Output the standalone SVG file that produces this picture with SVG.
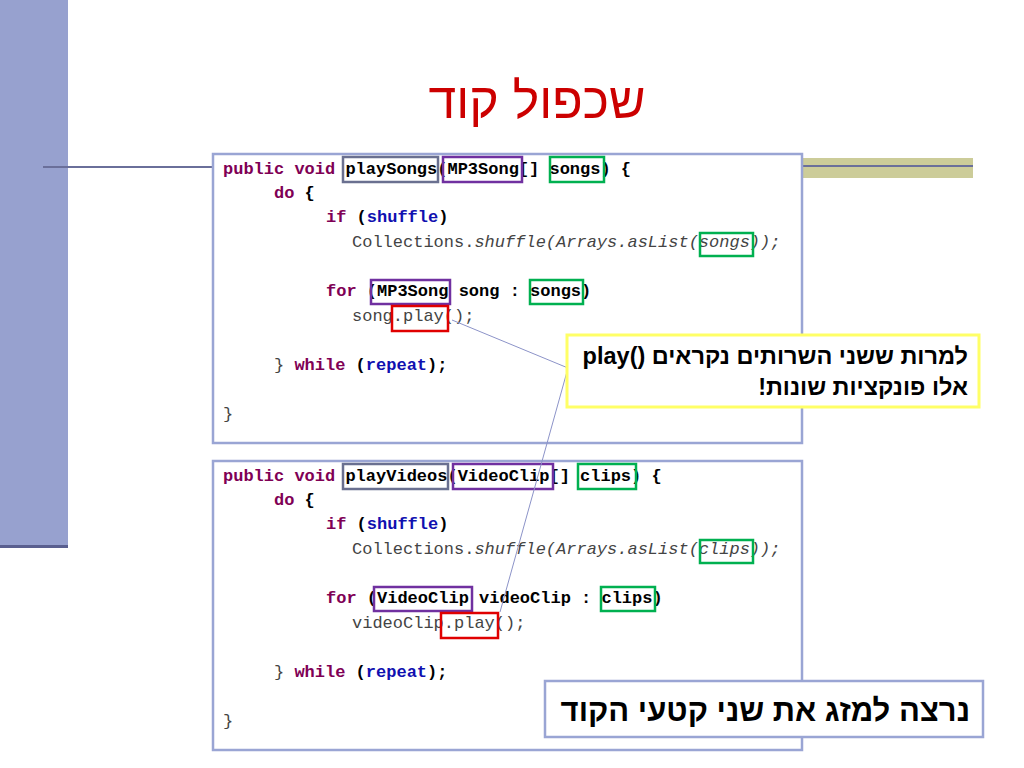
<svg xmlns="http://www.w3.org/2000/svg" width="1024" height="768" viewBox="0 0 1024 768">
<style>
.c{font-family:"Liberation Mono","Courier New",monospace;font-size:17px;white-space:pre}
.k{fill:#7F0055;font-weight:bold}
.b{fill:#1010B0;font-weight:bold}
.n{fill:#000;font-weight:bold}
.g{fill:#444}
.i{font-style:italic}
.panel{fill:#fff;stroke:#9AA5D4;stroke-width:2.5}
.bx{fill:none;stroke-width:2.5}
.gr{stroke:#00B050}.pu{stroke:#7030A0}.sl{stroke:#6A7090}.rd{stroke:#E00000}
.h{font-family:"Liberation Sans","Noto Sans",sans-serif;font-weight:bold;direction:rtl}
</style>
<rect x="0" y="0" width="68" height="548" fill="#97A1CF"/>
<line x1="0" y1="546.5" x2="68" y2="546.5" stroke="#5A5F8F" stroke-width="3"/>
<line x1="43" y1="167" x2="212" y2="167" stroke="#6A6F9A" stroke-width="2"/>
<rect x="803" y="158" width="170" height="20" fill="#CCCC99"/>
<line x1="803" y1="166" x2="973" y2="166" stroke="#6A6F9A" stroke-width="2"/>
<text x="537" y="118" text-anchor="middle" font-family="Liberation Sans,Noto Sans,sans-serif" font-size="50" fill="#CC0000" direction="rtl">שכפול קוד</text>

<g id="panel1">
<rect class="panel" x="213" y="154" width="589" height="289"/>
<text class="c" y="174"><tspan x="223" class="k">public void </tspan><tspan class="n">playSongs(MP3Song[] songs) {</tspan></text>
<text class="c" y="198"><tspan x="274" class="k">do</tspan><tspan class="n"> {</tspan></text>
<text class="c" y="222"><tspan x="326" class="k">if</tspan><tspan class="n"> (</tspan><tspan class="b">shuffle</tspan><tspan class="n">)</tspan></text>
<text class="c g" y="247"><tspan x="352">Collections.</tspan><tspan class="i">shuffle(Arrays.asList(songs));</tspan></text>
<text class="c" y="296"><tspan x="326" class="k">for</tspan><tspan class="n"> (MP3Song song : songs)</tspan></text>
<text class="c g" y="321" x="352">song.play();</text>
<text class="c" y="370"><tspan x="274" class="g">} </tspan><tspan class="k">while</tspan><tspan class="n"> (</tspan><tspan class="b">repeat</tspan><tspan class="n">);</tspan></text>
<text class="c g" y="419" x="223">}</text>
<rect class="bx sl" x="343" y="157" width="95" height="25"/>
<rect class="bx pu" x="443" y="157" width="79" height="25"/>
<rect class="bx gr" x="550" y="157" width="54" height="25"/>
<rect class="bx gr" x="700" y="233" width="53" height="23"/>
<rect class="bx pu" x="371" y="280" width="79" height="24"/>
<rect class="bx gr" x="530" y="280" width="53" height="24"/>
<rect class="bx rd" x="392" y="306" width="56" height="25"/>
</g>

<g id="panel2">
<rect class="panel" x="213" y="461" width="589" height="289"/>
<text class="c" y="481"><tspan x="223" class="k">public void </tspan><tspan class="n">playVideos(VideoClip[] clips) {</tspan></text>
<text class="c" y="505"><tspan x="274" class="k">do</tspan><tspan class="n"> {</tspan></text>
<text class="c" y="529"><tspan x="326" class="k">if</tspan><tspan class="n"> (</tspan><tspan class="b">shuffle</tspan><tspan class="n">)</tspan></text>
<text class="c g" y="554"><tspan x="352">Collections.</tspan><tspan class="i">shuffle(Arrays.asList(clips));</tspan></text>
<text class="c" y="603"><tspan x="326" class="k">for</tspan><tspan class="n"> (VideoClip videoClip : clips)</tspan></text>
<text class="c g" y="628" x="352">videoClip.play();</text>
<text class="c" y="677"><tspan x="274" class="g">} </tspan><tspan class="k">while</tspan><tspan class="n"> (</tspan><tspan class="b">repeat</tspan><tspan class="n">);</tspan></text>
<text class="c g" y="726" x="223">}</text>
<rect class="bx sl" x="343" y="464" width="105" height="25"/>
<rect class="bx pu" x="453" y="464" width="100" height="25"/>
<rect class="bx gr" x="578" y="464" width="58" height="25"/>
<rect class="bx gr" x="700" y="540" width="53" height="23"/>
<rect class="bx pu" x="374" y="587" width="98" height="24"/>
<rect class="bx gr" x="601" y="587" width="54" height="24"/>
<rect class="bx rd" x="441" y="613" width="57" height="25"/>
</g>

<g id="connectors" stroke="#8C93C8" stroke-width="1" fill="none">
<polyline points="452,320 568,368 500,612"/>
</g>

<g id="callout">
<rect x="567" y="335" width="412" height="72" fill="#fff" stroke="#FFFF66" stroke-width="3"/>
<text class="h" x="968" y="364" font-size="23.5" text-anchor="start">למרות ששני השרותים נקראים ()play</text>
<text class="h" x="968" y="395" font-size="23.5" text-anchor="start">אלו פונקציות שונות!</text>
</g>

<g id="bottom">
<rect x="545" y="681" width="438" height="56" fill="#fff" stroke="#9AA5D4" stroke-width="2.5"/>
<text class="h" x="970" y="721" font-size="31" text-anchor="start">נרצה למזג את שני קטעי הקוד</text>
</g>
</svg>
